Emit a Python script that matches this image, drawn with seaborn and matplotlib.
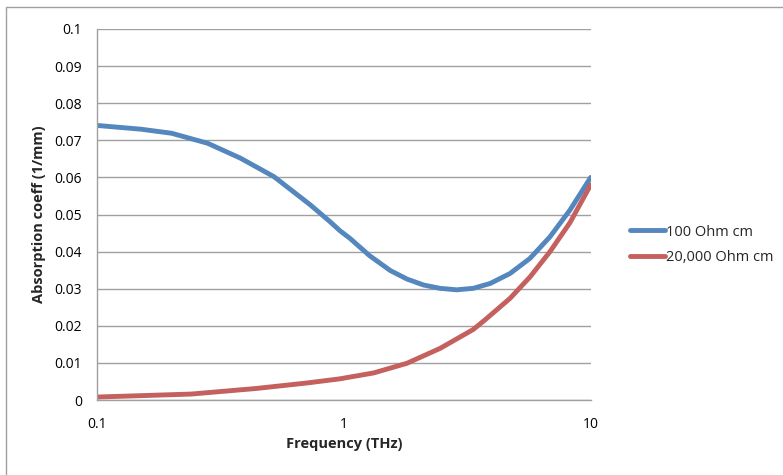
import matplotlib
matplotlib.use('Agg')
import matplotlib.pyplot as plt
import matplotlib.ticker as mticker
from matplotlib.patches import Rectangle
import seaborn as sns
import pandas as pd

# values
freq_100 = [0.1, 0.15, 0.2, 0.28, 0.38, 0.52, 0.6, 0.73, 0.88, 0.96, 1.06, 1.16, 1.27, 1.54, 1.8,
            2.1, 2.45, 2.86, 3.34, 3.91, 4.71, 5.68, 6.84, 8.24, 10.0]
abs_100 = [0.0740, 0.0730, 0.0719, 0.0692, 0.0652, 0.0602, 0.0570, 0.0526, 0.0480, 0.0457, 0.0435,
           0.0412, 0.0389, 0.0349, 0.0326, 0.0310, 0.0301, 0.0297, 0.0301, 0.0314, 0.0341,
           0.0382, 0.0440, 0.0512, 0.0600]

freq_20k = [0.1, 0.24, 0.44, 0.71, 0.96, 1.32, 1.8, 2.45, 3.34, 3.73, 4.71, 5.68, 6.84, 8.24, 10.0]
abs_20k = [0.0008, 0.0016, 0.0031, 0.0046, 0.0057, 0.0073, 0.0099, 0.0139, 0.0190, 0.0216,
           0.0274, 0.0332, 0.0400, 0.0478, 0.0580]

series_names = ['100 Ohm cm', '20,000 Ohm cm']
COLORS = {'100 Ohm cm': '#5487BD', '20,000 Ohm cm': '#C4605E'}

y_ticks = [0, 0.01, 0.02, 0.03, 0.04, 0.05, 0.06, 0.07, 0.08, 0.09, 0.1]
x_ticks = [0.1, 1, 10]

df = pd.concat([
    pd.DataFrame({'freq': freq_100, 'absorption': abs_100, 'series': series_names[0]}),
    pd.DataFrame({'freq': freq_20k, 'absorption': abs_20k, 'series': series_names[1]}),
])

sns.set_style('white')
plt.rcParams['font.family'] = ['Open Sans', 'DejaVu Sans']

fig = plt.figure(figsize=(7.83, 4.75), dpi=100)
ax = fig.add_axes([97.3 / 783, 75 / 475, 493.4 / 783, 371 / 475])

sns.lineplot(data=df, x='freq', y='absorption', hue='series', hue_order=series_names,
             palette=COLORS, linewidth=3.5, ax=ax, legend=False, sort=True)

ax.set_xscale('log')
ax.set_xlim(0.1, 10)
ax.set_ylim(0, 0.1)
ax.set_xticks(x_ticks)
ax.xaxis.set_minor_locator(mticker.NullLocator())
ax.xaxis.set_major_formatter(mticker.FuncFormatter(lambda v, p: '%g' % v))
ax.set_yticks(y_ticks)
ax.yaxis.set_major_formatter(mticker.FuncFormatter(lambda v, p: '%g' % v))

ax.grid(True, axis='y', color='#a0a0a0', linewidth=1.0)
ax.grid(False, axis='x')
ax.set_axisbelow(True)
for side in ['top', 'right']:
    ax.spines[side].set_visible(False)
for side in ['left', 'bottom']:
    ax.spines[side].set_color('#a0a0a0')
    ax.spines[side].set_linewidth(1.0)

ax.tick_params(axis='both', which='major', direction='out', length=5, width=1.0,
               color='#a0a0a0', labelsize=10, labelcolor='black')
ax.tick_params(axis='y', pad=6)
ax.tick_params(axis='x', pad=7)

ax.set_xlabel('Frequency (THz)', fontsize=10.5, fontweight='bold', labelpad=4)
ax.set_ylabel('Absorption coeff (1/mm)', fontsize=10.5, fontweight='bold', labelpad=6)

handles = [plt.Line2D([], [], color=COLORS[n], linewidth=3.5) for n in series_names]
fig.legend(handles, series_names, loc='center left', bbox_to_anchor=(624 / 783, 1 - 245 / 475),
           frameon=False, fontsize=10.5, handlelength=2.4, handletextpad=0.1,
           labelspacing=0.75, borderaxespad=0)

fig.patches.append(Rectangle((6 / 783, -0.05), 1.2, 1 - 7 / 475 + 0.05, transform=fig.transFigure,
                             fill=False, edgecolor='#a0a0a0', linewidth=1.0))

fig.savefig('out.png', dpi=100)
